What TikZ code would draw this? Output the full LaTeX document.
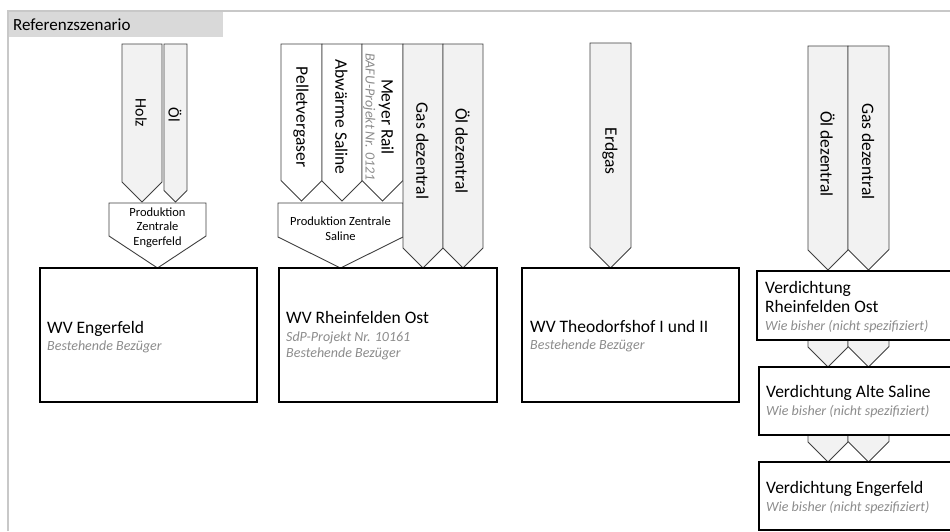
\documentclass[tikz,border=0pt]{standalone}
\usepackage{fontspec}
\setmainfont{Carlito}
\definecolor{framegray}{HTML}{C8C8C8}
\definecolor{bandgray}{HTML}{D9D9D9}
\definecolor{feedgray}{HTML}{F2F2F2}
\definecolor{edgegray}{HTML}{404040}
\definecolor{notegray}{HTML}{8C8C8C}
\newcommand{\subnote}[1]{{\color{notegray}\itshape\fontsize{14}{16}\selectfont #1}}
\tikzset{
  feed/.style={draw=edgegray, line width=0.9pt, fill=feedgray, line join=miter},
  feedwhite/.style={feed, fill=white},
  plant/.style={draw=black, line width=1.2pt, fill=white},
  feedlabel/.style={rotate=-90, inner sep=0pt, align=center, font=\fontsize{17.5}{19}\selectfont},
  smallfeedlabel/.style={feedlabel, font=\fontsize{16}{18}\selectfont},
  prodlabel/.style={inner sep=0pt, align=center, font=\fontsize{12.5}{14.5}\selectfont},
  plantlabel/.style={inner sep=0pt, anchor=west, align=left, font=\fontsize{17.5}{20}\selectfont}
}
\begin{document}
\begin{tikzpicture}[x=1pt, y=-1pt]
        \useasboundingbox (0,0) rectangle (950,531);
        \clip (0,0) rectangle (950,531);
        \fill[white] (0,0) rectangle (950,531);
        \fill[bandgray] (9,12) rectangle (223,37);
        \draw[framegray, line width=2pt] (8,531) -- (8,11) -- (950,11);
            \node[inner sep=0pt, anchor=west, font=\fontsize{17}{19}\selectfont] (title) at (13,24.5) {Referenzszenario};

        \draw[feed] (122,44) -- (162,44) -- (162,182) -- (142,202) -- (122,182) -- cycle;
            \node[smallfeedlabel] (holz) at (141,113) {Holz};
        \draw[feed] (164,44) -- (187,44) -- (187,190.5) -- (175.5,202) -- (164,190.5) -- cycle;
            \node[smallfeedlabel] (oel) at (175,115) {Öl};
        \draw[feedwhite] (109,203) -- (206,203) -- (206,236) -- (157.5,268) -- (109,236) -- cycle;
            \node[prodlabel] (prodeng) at (157.5,227.5) {Produktion\\Zentrale\\Engerfeld};

        \draw[feedwhite] (281,44) -- (322,44) -- (322,180.5) -- (301.5,201) -- (281,180.5) -- cycle;
            \node[feedlabel] (pellet) at (301,117) {Pelletvergaser};
        \draw[feedwhite] (322,44) -- (362,44) -- (362,181) -- (342,201) -- (322,181) -- cycle;
            \node[feedlabel] (abwaerme) at (341.5,117) {Abwärme Saline};
        \draw[feedwhite] (362,44) -- (403,44) -- (403,180.5) -- (382.5,201) -- (362,180.5) -- cycle;
            \node[feedlabel] (meyer) at (378.5,117) {Meyer Rail\\[-3pt]\subnote{BAFU-Projekt Nr. 0121}};
        \draw[feedwhite] (278,203) -- (403,203) -- (403,237) -- (340.5,268) -- (278,237) -- cycle;
            \node[prodlabel] (prodsal) at (340.5,228.5) {Produktion Zentrale\\Saline};
        \draw[feed] (403,44) -- (443,44) -- (443,248) -- (423,268) -- (403,248) -- cycle;
            \node[feedlabel] (gasmid) at (422.5,151) {Gas dezentral};
        \draw[feed] (443,44) -- (483,44) -- (483,248) -- (463,268) -- (443,248) -- cycle;
            \node[feedlabel] (oelmid) at (462.5,151) {Öl dezentral};

        \draw[feed] (590,43) -- (631,43) -- (631,247.5) -- (610.5,268) -- (590,247.5) -- cycle;
            \node[feedlabel] (erdgas) at (610,151) {Erdgas};

        \draw[feed] (808,46) -- (848,46) -- (848,250) -- (828,270) -- (808,250) -- cycle;
            \node[feedlabel] (oelright) at (827.5,154) {Öl dezentral};
        \draw[feed] (848,46) -- (889,46) -- (889,249.5) -- (868.5,270) -- (848,249.5) -- cycle;
            \node[feedlabel] (gasright) at (868,151.5) {Gas dezentral};
        \draw[feed] (808,340) -- (848,340) -- (848,347) -- (828,367) -- (808,347) -- cycle;
        \draw[feed] (848,340) -- (889,340) -- (889,346.5) -- (868.5,367) -- (848,346.5) -- cycle;
        \draw[feed] (808,435) -- (848,435) -- (848,442) -- (828,462) -- (808,442) -- cycle;
        \draw[feed] (848,435) -- (889,435) -- (889,441.5) -- (868.5,462) -- (848,441.5) -- cycle;

        \draw[plant] (40,268) rectangle (257,402);
            \node[plantlabel] (wveng) at (47,337) {WV Engerfeld\\[-3pt]\subnote{Bestehende Bezüger}};
        \draw[plant] (279,268) rectangle (497,402);
            \node[plantlabel] (wvrhf) at (286,335.5) {WV Rheinfelden Ost\\[-2pt]\subnote{SdP-Projekt Nr. 10161}\\[-4pt]\subnote{Bestehende Bezüger}};
        \draw[plant] (522,268) rectangle (739,402);
            \node[plantlabel] (wvtheo) at (530,336) {WV Theodorfshof I und II\\[-3pt]\subnote{Bestehende Bezüger}};

        \draw[plant] (757,271) rectangle (960,340);
            \node[plantlabel] (vdrhf) at (765,307) {Verdichtung\\[-1pt]Rheinfelden Ost\\[-2pt]\subnote{Wie bisher (nicht spezifiziert)}};
        \draw[plant] (759,367) rectangle (960,435);
            \node[plantlabel] (vdsal) at (766,402) {Verdichtung Alte Saline\\[-2pt]\subnote{Wie bisher (nicht spezifiziert)}};
        \draw[plant] (759,462) rectangle (960,530);
            \node[plantlabel] (vdeng) at (766,497.5) {Verdichtung Engerfeld\\[-2pt]\subnote{Wie bisher (nicht spezifiziert)}};
    \end{tikzpicture}
\end{document}
